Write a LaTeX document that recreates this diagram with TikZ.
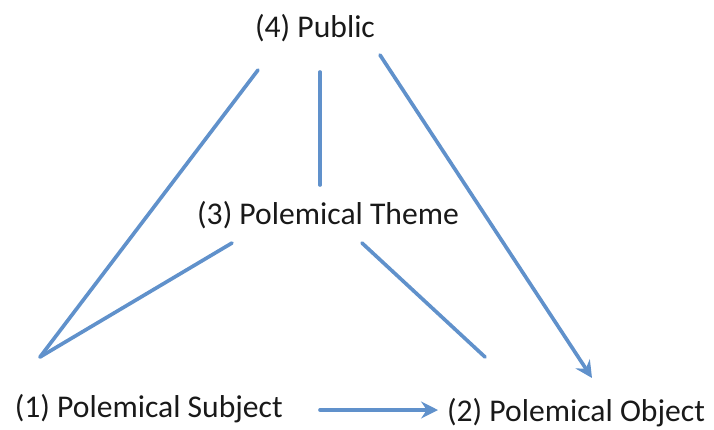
\documentclass[tikz,border=0pt]{standalone}
\usepackage{fontspec}
\setmainfont{Carlito}
\usetikzlibrary{arrows.meta,positioning}

\definecolor{linkblue}{RGB}{96,145,203}

\begin{document}
\begin{tikzpicture}[
    font=\fontsize{22.5}{27}\selectfont,
    label/.style={inner sep=0pt, text=black!90},
    link/.style={linkblue, line width=2.6pt, line cap=round},
    arrowlink/.style={link, -{Stealth[length=12pt, width=12pt, inset=4pt]}}
  ]
  \useasboundingbox (0,0) rectangle (17.85,10.725);

  % Labels
  \node[label] (public)  at (7.875, 10.03) {(4) Public};
  \node[label] (theme)   at (8.2, 5.35)    {(3) Polemical Theme};
  \node[label] (subject) at (3.72, 0.52)   {(1) Polemical Subject};
  \node[label] (object)  at (14.40, 0.40)  {(2) Polemical Object};

  % Line ends
  \coordinate (pubL) at (6.45, 8.975);
  \coordinate (pubM) at (8.0, 8.925);
  \coordinate (pubR) at (9.5, 9.35);
  \coordinate (thmT) at (8.0, 6.1);
  \coordinate (thmL) at (5.8, 4.65);
  \coordinate (thmR) at (9.05, 4.65);
  \coordinate (subT) at (1.0, 1.8);
  \coordinate (subR) at (8.0, 0.475);
  \coordinate (objT) at (12.125, 1.8);
  \coordinate (objA) at (14.8, 1.275);
  \coordinate (objL) at (10.95, 0.475);

  % Connectors
  \draw[link] (pubL) -- (subT);
  \draw[link] (pubM) -- (thmT);
  \draw[link] (thmL) -- (subT);
  \draw[link] (thmR) -- (objT);
  \draw[arrowlink] (pubR) -- (objA);
  \draw[arrowlink] (subR) -- (objL);
\end{tikzpicture}
\end{document}
